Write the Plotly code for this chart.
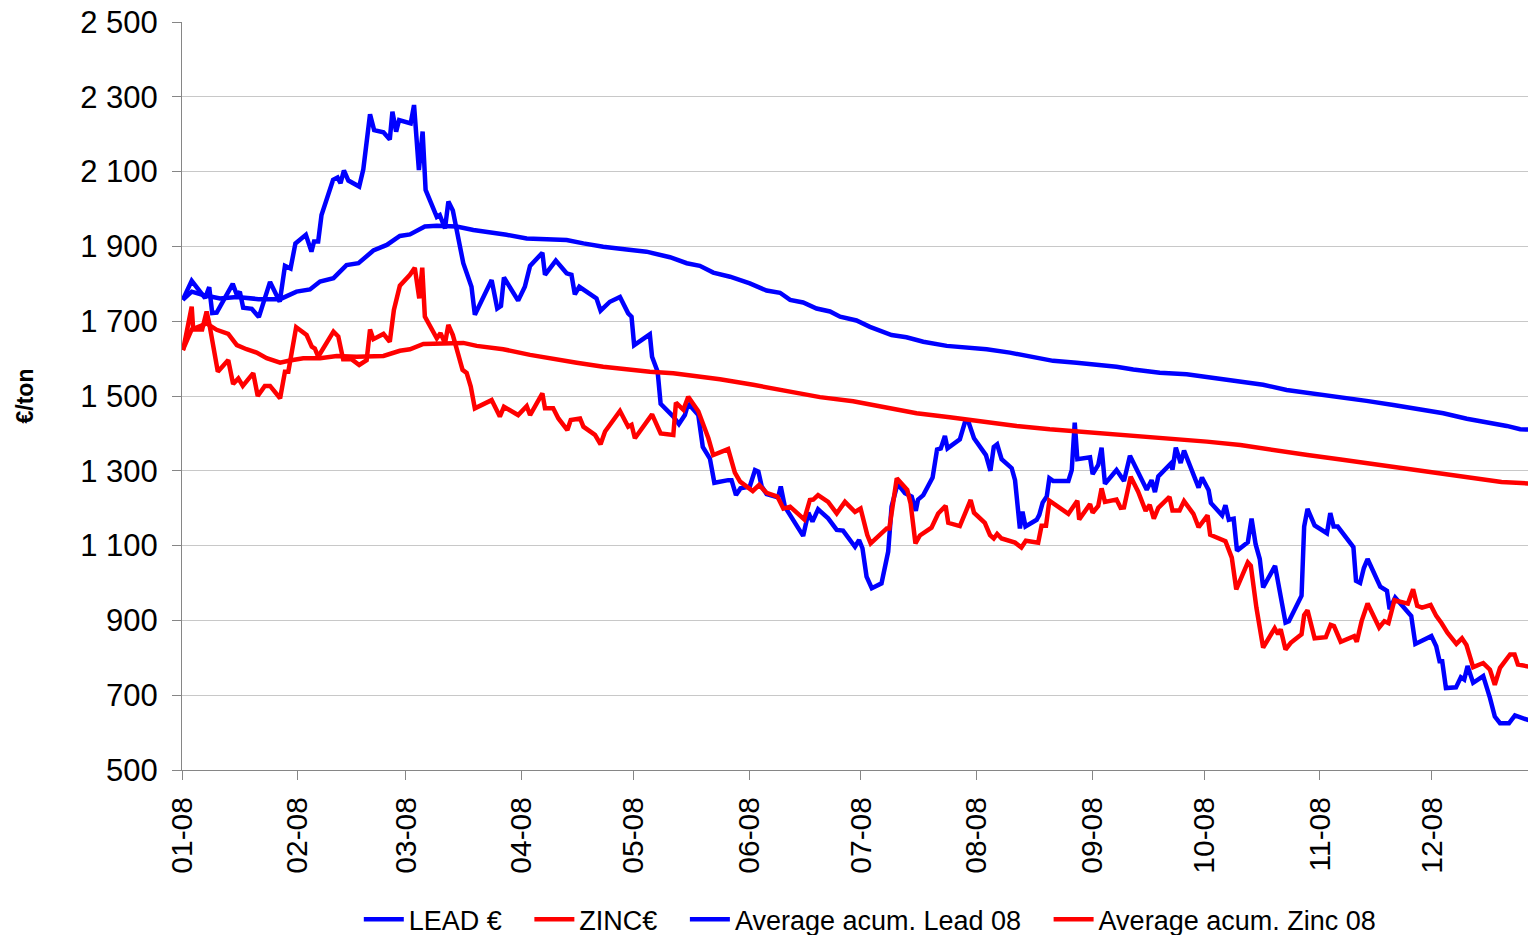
import pandas as pd
import plotly.graph_objects as go

# ---- data (day offset from 2008-01-01, value in EUR/ton) ----
lead_day = [0.2, 2.6, 6.2, 7.3, 8.1, 9.3, 13.6, 14.7, 15.5, 16.4, 18.7, 20.6, 23.6, 26.2, 27.6, 29.1,
            30.4, 33.2, 34.7, 35.4, 36.5, 37.4, 40.5, 41.7, 42.5, 43.4, 44.6, 47.5, 48.6, 50.4, 51.5,
            54.0, 55.7, 56.4, 57.4, 58.2, 61.3, 62.2, 63.5, 64.5, 65.3, 68.3, 69.1, 70.5, 71.4, 72.6,
            75.4, 77.6, 78.5, 83.0, 84.5, 85.5, 86.3, 90.1, 91.9, 93.3, 96.6, 97.3, 100.2, 103.1,
            104.4, 105.3, 106.5, 111.1, 112.2, 114.7, 117.4, 119.6, 120.5, 121.2, 125.4, 126.0, 127.5,
            128.3, 131.7, 133.2, 134.8, 135.7, 138.4, 139.6, 141.5, 142.7, 146.4, 147.3, 148.5, 149.7,
            152.2, 153.6, 154.5, 155.4, 156.7, 159.8, 160.5, 161.6, 166.5, 167.9, 169.0, 170.5, 173.2,
            175.5, 177.2, 180.4, 181.5, 182.4, 183.5, 184.9, 187.5, 189.3, 190.2, 191.8, 193.8, 195.6,
            196.7, 197.3, 198.7, 201.2, 202.4, 203.4, 204.5, 205.2, 208.5, 209.9, 210.8, 212.3, 215.5,
            216.7, 217.6, 218.5, 219.7, 222.4, 223.3, 224.6, 225.3, 226.1, 229.1, 229.8, 230.7, 231.8,
            232.5, 233.5, 237.6, 238.5, 239.3, 240.0, 243.4, 244.1, 245.6, 246.5, 247.4, 250.5, 252.5,
            254.1, 258.6, 259.9, 260.8, 261.7, 265.0, 265.5, 266.4, 267.7, 268.6, 272.5, 273.4, 275.2,
            275.8, 278.8, 279.7, 280.6, 281.9, 282.8, 285.7, 286.7, 287.8, 288.9, 289.8, 293.0, 295.8,
            296.7, 300.1, 300.8, 301.7, 303.6, 306.9, 307.8, 308.7, 309.8, 314.0, 314.7, 315.8, 316.8,
            317.8, 319.6, 321.2, 323.0, 323.7, 325.2, 328.1, 329.5, 330.6, 333.1, 334.9, 336.2, 337.1,
            337.8, 338.8, 341.5, 342.8, 343.7, 344.6, 346.1, 348.8, 350.6, 351.9, 353.3, 355.7, 357.3,
            361.3]
lead_val = [1757, 1808, 1762, 1791, 1722, 1723, 1800, 1770, 1779, 1736, 1733, 1711, 1805, 1752, 1848, 1841,
            1908, 1931, 1886, 1913, 1913, 1984, 2078, 2084, 2069, 2103, 2076, 2060, 2106, 2253, 2211,
            2205, 2186, 2260, 2207, 2238, 2229, 2278, 2104, 2207, 2051, 1979, 1984, 1948, 2020, 1996,
            1855, 1792, 1717, 1810, 1734, 1741, 1817, 1755, 1792, 1848, 1883, 1824, 1862, 1828,
            1824, 1772, 1792, 1761, 1728, 1752, 1765, 1721, 1712, 1636, 1665, 1605, 1565,
            1479, 1445, 1425, 1449, 1480, 1449, 1364, 1333, 1268, 1275, 1275, 1235, 1253,
            1258, 1302, 1298, 1258, 1238, 1229, 1258, 1204, 1126, 1188, 1164, 1197, 1173,
            1142, 1140, 1097, 1115, 1093, 1017, 986, 999, 1084, 1204, 1265, 1240, 1231,
            1193, 1223, 1235, 1282, 1357, 1360, 1393, 1360, 1384, 1431, 1431, 1387, 1342,
            1300, 1364, 1371, 1331, 1307, 1275, 1146, 1191, 1151, 1169, 1182, 1215, 1231,
            1280, 1273, 1273, 1302, 1429, 1331, 1336, 1291, 1316, 1362, 1265, 1302, 1273,
            1340, 1249, 1275, 1243, 1285, 1319, 1303, 1362, 1321, 1354, 1255, 1282, 1248,
            1214, 1181, 1208, 1169, 1172, 1086, 1109, 1172, 1103, 1064, 988, 1046, 894,
            898, 966, 1151, 1198, 1154, 1133, 1187, 1151, 1151, 1096, 1006, 1000, 1040,
            1064, 1024, 990, 979, 930, 961, 930, 912, 837, 849, 858, 831, 791,
            791, 719, 721, 748, 742, 778, 733, 751, 693, 643, 625, 625, 646,
            632]

zinc_day = [0.3, 2.6, 3.0, 5.4, 6.6, 7.3, 9.6, 12.4, 13.7, 15.1, 16.3, 19.1, 20.3, 22.2, 23.6, 26.3,
            27.6, 28.5, 30.6, 33.4, 34.8, 35.6, 36.5, 40.6, 41.9, 43.2, 45.5, 47.5, 49.5, 50.4, 51.3,
            54.0, 55.7, 56.8, 58.4, 61.1, 62.4, 63.6, 64.4, 65.1, 68.3, 69.3, 70.5, 71.4, 72.6, 75.2,
            76.3, 77.4, 78.5, 83.0, 85.2, 86.3, 90.1, 92.4, 93.3, 96.6, 97.3, 99.5, 100.9, 103.3,
            104.2, 106.7, 107.6, 110.7, 112.2, 113.4, 117.4, 119.6, 120.5, 121.4, 126.0, 128.3, 131.7,
            132.4, 134.4, 135.7, 138.4, 141.1, 142.4, 146.4, 148.2, 149.6, 153.0, 154.7, 156.7, 159.6,
            161.2, 163.0, 166.8, 168.3, 169.2, 170.5, 173.2, 175.5, 177.7, 180.4, 181.9, 183.7, 184.6,
            188.9, 189.6, 191.6, 194.4, 195.3, 196.6, 197.8, 200.9, 202.7, 204.7, 205.4, 208.5, 209.9,
            211.4, 212.3, 215.2, 216.6, 217.6, 218.5, 219.7, 223.3, 225.0, 226.2, 229.5, 230.4, 231.6,
            232.5, 237.6, 240.0, 240.5, 243.4, 244.1, 245.6, 246.5, 247.4, 250.5, 251.6, 252.5, 254.3,
            256.3, 258.3, 259.4, 260.5, 261.7, 264.7, 265.5, 267.4, 268.6, 271.1, 272.5, 274.9, 275.6,
            279.7, 281.4, 282.6, 285.7, 286.5, 288.0, 289.8, 292.9, 293.8, 294.5, 295.8, 297.2, 300.1,
            300.8, 301.7, 302.7, 303.6, 306.6, 307.9, 308.8, 310.6, 314.2, 314.9, 316.2, 317.8, 320.9,
            322.3, 323.4, 324.1, 325.0, 328.6, 330.0, 331.1, 332.4, 334.7, 336.2, 337.6, 339.2, 341.6,
            343.1, 344.3, 346.1, 348.8, 350.6, 351.9, 353.3, 356.0, 357.2, 358.1, 361.3]
zinc_val = [1623, 1739, 1678, 1678, 1726, 1694, 1565, 1596, 1532, 1547, 1527, 1561, 1500, 1527, 1527, 1494,
            1565, 1565, 1684, 1663, 1632, 1627, 1605, 1672, 1659, 1598, 1598, 1583, 1596, 1678, 1652,
            1666, 1645, 1730, 1795, 1824, 1843, 1761, 1843, 1712, 1654, 1668, 1641, 1690, 1663, 1570,
            1562, 1525, 1467, 1489, 1445, 1471, 1449, 1473, 1449, 1507, 1467, 1467, 1440, 1409,
            1436, 1440, 1418, 1396, 1371, 1405, 1460, 1418, 1423, 1387, 1451, 1400, 1396,
            1482, 1463, 1498, 1459, 1387, 1342, 1358, 1295, 1271, 1246, 1262, 1241, 1231,
            1199, 1204, 1170, 1222, 1223, 1235, 1217, 1186, 1217, 1190, 1199, 1128, 1106,
            1146, 1146, 1280, 1249, 1213, 1106, 1127, 1148, 1186, 1206, 1161, 1152, 1188,
            1222, 1188, 1161, 1128, 1119, 1131, 1119, 1108, 1095, 1113, 1108, 1153, 1153,
            1220, 1185, 1220, 1170, 1211, 1188, 1206, 1253, 1217, 1223, 1201, 1202, 1284,
            1244, 1193, 1209, 1172, 1201, 1230, 1194, 1194, 1219, 1185, 1149, 1181, 1129,
            1112, 1068, 983, 1055, 1046, 934, 827, 879, 863, 876, 822, 840, 863,
            914, 927, 891, 852, 855, 888, 885, 843, 858, 843, 898, 945, 881,
            898, 893, 918, 954, 945, 983, 939, 934, 941, 912, 893, 867, 837,
            852, 834, 775, 786, 768, 728, 773, 809, 809, 782, 776]

avg_lead_day = [0.2, 2.6, 5.7, 10.2, 14.7, 20.5, 26.3, 30.7, 34.3, 37.0, 40.6, 44.1, 47.3, 51.3, 54.9,
                58.4, 61.1, 65.1, 68.3, 73.6, 78.1, 84.3, 87.0, 92.4, 97.7, 103.1, 107.6, 112.9, 119.2,
                124.5, 130.8, 135.3, 138.8, 142.4, 146.9, 152.2, 156.7, 160.3, 163.0, 166.5, 170.1,
                173.7, 176.4, 180.8, 184.4, 190.2, 194.2, 198.7, 205.0, 210.3, 215.7, 221.9, 228.2,
                233.5, 239.8, 246.0, 250.5, 255.0, 262.1, 269.3, 275.5, 283.6, 289.8, 296.1, 303.2,
                310.4, 317.5, 324.7, 330.9, 338.1, 344.4, 349.7, 355.1, 358.7, 361.4]
avg_lead_val = [1757, 1779, 1770, 1761, 1765, 1759, 1759, 1779, 1785, 1806, 1815, 1850, 1855, 1889, 1904,
                1928, 1932, 1953, 1955, 1953, 1944, 1937, 1931, 1921, 1919, 1917, 1908, 1899, 1892,
                1886, 1871, 1855, 1848, 1830, 1819, 1801, 1782, 1776, 1757, 1750, 1734,
                1726, 1712, 1702, 1685, 1663, 1657, 1645, 1634, 1630, 1625, 1616, 1605,
                1594, 1589, 1584, 1578, 1571, 1562, 1558, 1550, 1538, 1530, 1516, 1507,
                1496, 1487, 1476, 1467, 1454, 1439, 1431, 1420, 1411, 1410]

avg_zinc_day = [0.2, 2.6, 6.6, 9.3, 12.4, 14.7, 17.3, 20.0, 22.7, 26.3, 28.9, 32.5, 37.0, 41.5, 46.8,
                50.4, 54.0, 58.4, 61.1, 64.7, 70.0, 75.4, 79.0, 86.1, 93.3, 99.5, 105.8, 112.9, 119.2,
                125.4, 131.7, 137.9, 144.2, 153.1, 162.1, 171.0, 179.9, 188.9, 196.9, 205.8, 214.8,
                223.7, 232.6, 241.6, 250.5, 259.4, 265.7, 274.7, 283.7, 292.7, 301.7, 310.6, 319.6,
                328.6, 337.6, 346.5, 353.7, 361.3]
avg_zinc_val = [1623, 1678, 1694, 1677, 1666, 1636, 1625, 1616, 1601, 1589, 1595, 1601, 1601, 1607, 1605,
                1607, 1607, 1621, 1625, 1639, 1639, 1642, 1634, 1625, 1610, 1601, 1589, 1578, 1570,
                1565, 1561, 1554, 1545, 1530, 1512, 1497, 1486, 1468, 1454, 1443, 1431,
                1420, 1411, 1404, 1398, 1390, 1387, 1378, 1369, 1357, 1342, 1330, 1318,
                1303, 1291, 1282, 1270, 1266]

series_names = ["LEAD €", "ZINC€", "Average acum. Lead 08", "Average acum. Zinc 08"]
series_colors = ["#0000FF", "#FF0000", "#0000FF", "#FF0000"]

month_ticks = ["2008-%02d-01" % m for m in range(1, 13)]
month_labels = ["%02d-08" % m for m in range(1, 13)]
y_ticks = [500, 700, 900, 1100, 1300, 1500, 1700, 1900, 2100, 2300, 2500]
y_tick_labels = ["500", "700", "900", "1 100", "1 300", "1 500", "1 700", "1 900", "2 100", "2 300", "2 500"]

base = pd.Timestamp("2008-01-01")


def to_dates(days):
    return [base + pd.Timedelta(days=d) for d in days]


PAD = "\u00a0\u00a0\u00a0"  # spacing between legend entries

fig = go.Figure()
series = [(lead_day, lead_val), (zinc_day, zinc_val), (avg_lead_day, avg_lead_val), (avg_zinc_day, avg_zinc_val)]
for i, ((days, vals), name, color) in enumerate(zip(series, series_names, series_colors)):
    label = name + (PAD if i < len(series_names) - 1 else "")
    fig.add_trace(go.Scatter(x=to_dates(days), y=vals, mode="lines", name=label,
                             line=dict(color=color, width=4.5)))

x_font = dict(family="Arial, Liberation Sans, sans-serif", size=30, color="black")
y_font = dict(family="Arial, Liberation Sans, sans-serif", size=31, color="black")

fig.update_layout(
    width=1528, height=935, autosize=False,
    margin=dict(l=182, r=0, t=22, b=165, autoexpand=False),
    paper_bgcolor="white", plot_bgcolor="white",
    showlegend=True,
    legend=dict(orientation="h", x=0.511, xanchor="center", y=-0.2, yanchor="middle",
                font=dict(family="Arial, Liberation Sans, sans-serif", size=27, color="black"),
                bgcolor="rgba(0,0,0,0)", itemwidth=40, tracegroupgap=0),
    xaxis=dict(type="date", range=[base, base + pd.Timedelta(days=360.8)], automargin=False,
               tickmode="array", tickvals=month_ticks, ticktext=month_labels, tickangle=-90,
               tickfont=x_font, ticks="outside", ticklen=9, tickcolor="#868686",
               showline=True, linecolor="#868686", linewidth=1, showgrid=False, zeroline=False,
               ticklabelstandoff=5),
    yaxis=dict(range=[500, 2500], automargin=False, tickmode="array", tickvals=y_ticks,
               ticktext=y_tick_labels,
               tickfont=y_font, ticks="outside", ticklen=9, tickcolor="#868686",
               showline=True, linecolor="#868686", linewidth=1,
               showgrid=True, gridcolor="#C8C8C8", gridwidth=1, zeroline=False,
               ticklabelstandoff=8,
               title=dict(text="€/ton", font=dict(family="Arial, Liberation Sans, sans-serif", size=23,
                                                  color="black", weight="bold"), standoff=40)),
)

fig.write_html("out.html", config={"displayModeBar": False},
               post_script="document.body.style.margin='0px';document.body.style.overflow='hidden';")
